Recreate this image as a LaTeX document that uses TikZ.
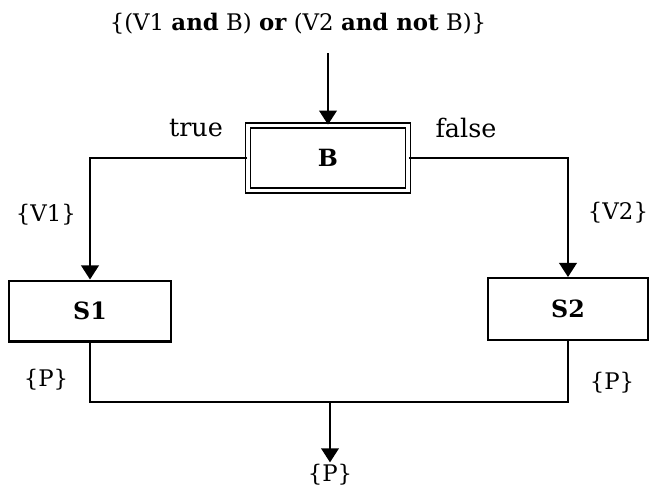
\documentclass[tikz,border=0pt]{standalone}
\usepackage{fontspec}
\setmainfont{DejaVu Serif}
\usetikzlibrary{arrows.meta}
\begin{document}
\begin{tikzpicture}[x=0.02cm,y=-0.02cm,
  every node/.style={font=\fontsize{13}{15}\selectfont},
  flow/.style={line width=1.15pt},
  arr/.style={flow,-{Triangle[width=10pt,length=8pt]}},
  stmt/.style={draw,line width=1.15pt,inner sep=0pt,font=\fontsize{13.5}{15}\selectfont\bfseries},
  test/.style={draw,line width=1pt,double,double distance=1.8pt,inner sep=0pt,font=\fontsize{13.5}{15}\selectfont\bfseries},
  cond/.style={inner sep=1pt},
  branch/.style={inner sep=1pt,font=\fontsize{14.5}{16}\selectfont}]
\useasboundingbox (0,0) rectangle (649,491);
% precondition and entry
\node[cond] (pre) at (298,24) {\{(V1 \textbf{and} B) \textbf{or} (V2 \textbf{and not} B)\}};
\coordinate (in) at (328,53);
% test and the two statements
\node[test,minimum width=3.2cm,minimum height=1.3cm] (B) at (328,158) {B};
\node[stmt,minimum width=3.26cm,minimum height=1.22cm] (S1) at (90,311) {S1};
\node[stmt,minimum width=3.2cm,minimum height=1.24cm] (S2) at (568,309) {S2};
% branch labels and assertions
\node[branch] (t) at (196,128) {true};
\node[branch] (f) at (466,128) {false};
\node[cond] (v1) at (46,215) {\{V1\}};
\node[cond] (v2) at (618,213) {\{V2\}};
\node[cond] (p1) at (46,380) {\{P\}};
\node[cond] (p2) at (612,383) {\{P\}};
\coordinate (join) at (330,402);
\node[cond] (post) at (330,475) {\{P\}};
% connectors
\draw[arr] (in) -- (B.north);
\draw[arr] (B.west) -| (S1.north);
\draw[arr] (B.east) -| (S2.north);
\draw[flow] (S1.south) |- (join) -| (S2.south);
\draw[arr] (join) -- (post.north);
\end{tikzpicture}
\end{document}
